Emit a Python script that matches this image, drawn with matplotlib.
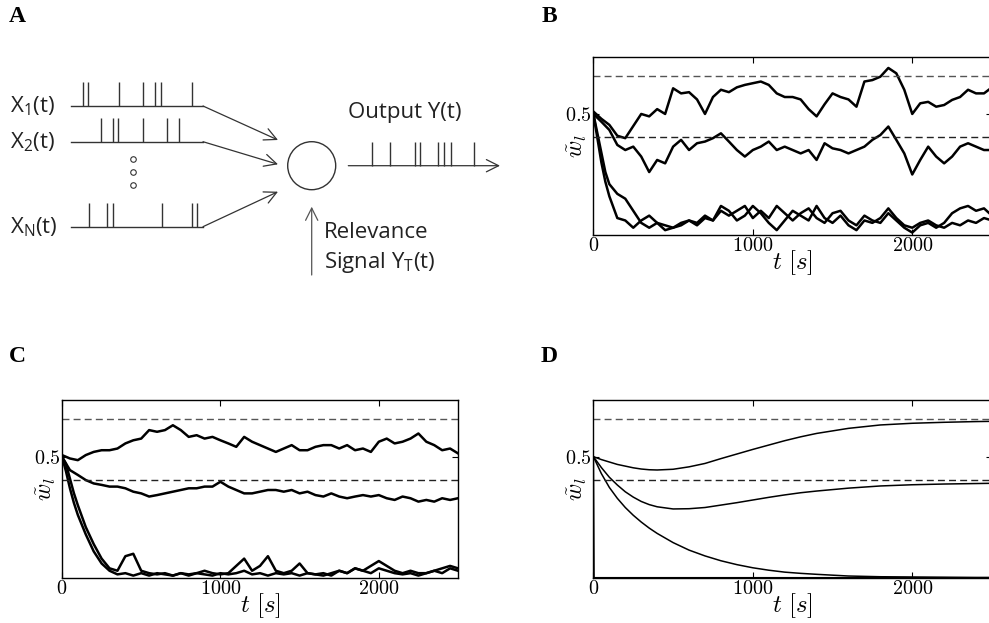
import numpy as np
import matplotlib
matplotlib.use('Agg')
import matplotlib.pyplot as plt
from matplotlib.patches import Circle

plt.rcParams['mathtext.fontset'] = 'cm'
plt.rcParams['mathtext.rm'] = 'Open Sans'
plt.rcParams['mathtext.it'] = 'Open Sans:italic'
plt.rcParams['mathtext.bf'] = 'Open Sans:bold'

# time grids (s)
t_grid = list(range(0, 2501, 50))
t_low = [0, 25, 50, 75] + list(range(100, 2501, 50))
t_d = [0, 50, 100, 150, 200, 250, 300, 350, 400, 500, 600, 700, 800, 900, 1000,
       1100, 1200, 1300, 1400, 1600, 1800, 2000, 2200, 2400, 2500]

target_hi = 0.655
target_lo = 0.405

# panel B
b_upper = [0.51, 0.48, 0.455, 0.41, 0.40, 0.45, 0.50, 0.49, 0.52, 0.50, 0.606, 0.585,
           0.59, 0.56, 0.50, 0.57, 0.60, 0.59, 0.61, 0.62, 0.627, 0.634, 0.62, 0.585,
           0.57, 0.57, 0.56, 0.52, 0.49, 0.54, 0.585, 0.57, 0.56, 0.53, 0.634, 0.64,
           0.654, 0.69, 0.668, 0.60, 0.50, 0.544, 0.55, 0.53, 0.537, 0.558, 0.57, 0.60,
           0.585, 0.585, 0.61]
b_middle = [0.5, 0.468, 0.434, 0.372, 0.351, 0.365, 0.324, 0.26, 0.31, 0.296, 0.365,
            0.393, 0.351, 0.379, 0.386, 0.40, 0.42, 0.386, 0.351, 0.324, 0.351, 0.365,
            0.386, 0.351, 0.365, 0.351, 0.337, 0.351, 0.31, 0.379, 0.358, 0.351, 0.337,
            0.351, 0.365, 0.393, 0.413, 0.448, 0.393, 0.337, 0.25, 0.31, 0.365, 0.324,
            0.296, 0.324, 0.365, 0.379, 0.365, 0.351, 0.351]
b_low1 = [0.5, 0.40, 0.30, 0.22, 0.16, 0.07, 0.06, 0.03, 0.06, 0.08, 0.05, 0.04, 0.03,
          0.05, 0.06, 0.04, 0.07, 0.06, 0.12, 0.10, 0.06, 0.08, 0.12, 0.09, 0.05, 0.02,
          0.06, 0.10, 0.08, 0.06, 0.12, 0.07, 0.05, 0.08, 0.04, 0.02, 0.06, 0.05, 0.07,
          0.11, 0.07, 0.04, 0.03, 0.05, 0.06, 0.04, 0.03, 0.05, 0.04, 0.06, 0.05, 0.07,
          0.06]
b_low2 = [0.5, 0.42, 0.34, 0.26, 0.21, 0.17, 0.15, 0.10, 0.05, 0.03, 0.05, 0.02, 0.03,
          0.04, 0.06, 0.05, 0.08, 0.06, 0.10, 0.08, 0.10, 0.12, 0.07, 0.10, 0.07, 0.12,
          0.09, 0.06, 0.09, 0.11, 0.07, 0.05, 0.09, 0.10, 0.06, 0.04, 0.08, 0.06, 0.05,
          0.09, 0.06, 0.03, 0.01, 0.04, 0.05, 0.03, 0.05, 0.09, 0.11, 0.12, 0.10, 0.11,
          0.08]

# panel C
c_upper = [0.507, 0.493, 0.486, 0.507, 0.52, 0.527, 0.527, 0.534, 0.555, 0.568, 0.575,
           0.61, 0.603, 0.61, 0.63, 0.61, 0.582, 0.589, 0.575, 0.582, 0.568, 0.555,
           0.541, 0.582, 0.562, 0.548, 0.534, 0.52, 0.534, 0.548, 0.527, 0.527, 0.541,
           0.548, 0.548, 0.534, 0.548, 0.527, 0.534, 0.52, 0.562, 0.575, 0.555, 0.562,
           0.575, 0.596, 0.562, 0.548, 0.527, 0.534, 0.514]
c_middle = [0.5, 0.445, 0.425, 0.404, 0.39, 0.384, 0.377, 0.377, 0.37, 0.356, 0.349,
            0.336, 0.342, 0.349, 0.356, 0.363, 0.37, 0.37, 0.377, 0.377, 0.397, 0.377,
            0.363, 0.349, 0.349, 0.356, 0.363, 0.363, 0.356, 0.363, 0.349, 0.356, 0.342,
            0.336, 0.349, 0.336, 0.329, 0.336, 0.342, 0.336, 0.342, 0.329, 0.322, 0.336,
            0.329, 0.315, 0.322, 0.315, 0.329, 0.322, 0.329]
c_low1 = [0.5, 0.44, 0.37, 0.31, 0.26, 0.18, 0.11, 0.06, 0.03, 0.015, 0.02, 0.01, 0.02,
          0.01, 0.02, 0.015, 0.01, 0.02, 0.01, 0.02, 0.015, 0.01, 0.02, 0.015, 0.02,
          0.03, 0.015, 0.02, 0.01, 0.02, 0.015, 0.02, 0.01, 0.02, 0.015, 0.01, 0.02,
          0.03, 0.02, 0.04, 0.03, 0.02, 0.04, 0.03, 0.02, 0.015, 0.02, 0.01, 0.02, 0.03,
          0.02, 0.04, 0.03]
c_low2 = [0.5, 0.47, 0.41, 0.35, 0.30, 0.21, 0.14, 0.08, 0.04, 0.03, 0.09, 0.10, 0.03,
          0.02, 0.015, 0.02, 0.01, 0.02, 0.015, 0.02, 0.03, 0.02, 0.015, 0.02, 0.05,
          0.08, 0.03, 0.05, 0.09, 0.03, 0.02, 0.03, 0.06, 0.02, 0.015, 0.02, 0.01, 0.03,
          0.02, 0.04, 0.03, 0.05, 0.07, 0.05, 0.03, 0.02, 0.03, 0.02, 0.02, 0.03, 0.04,
          0.05, 0.04]

# panel D (mean dynamics)
d_upper = [0.5, 0.488, 0.478, 0.468, 0.461, 0.454, 0.449, 0.446, 0.445, 0.448, 0.458,
           0.472, 0.492, 0.511, 0.53, 0.548, 0.566, 0.582, 0.596, 0.617, 0.631, 0.638,
           0.642, 0.645, 0.646]
d_middle = [0.5, 0.455, 0.415, 0.383, 0.355, 0.333, 0.315, 0.302, 0.293, 0.284, 0.285,
            0.29, 0.30, 0.31, 0.321, 0.332, 0.342, 0.351, 0.358, 0.37, 0.379, 0.384,
            0.387, 0.389, 0.39]
d_lower = [0.5, 0.43, 0.373, 0.328, 0.29, 0.258, 0.23, 0.205, 0.183, 0.145, 0.114, 0.09,
           0.07, 0.054, 0.041, 0.031, 0.023, 0.018, 0.014, 0.007, 0.004, 0.003, 0.002,
           0.001, 0.001]
t_drop = [0, 4, 2500]
d_drop = [0.5, 0.0, 0.0]

# panel A schematic (spike positions along each train)
x1_spikes = [82.7, 88.3, 119.3, 143.3, 155.3, 161.3, 191.7]
x2_spikes = [100.7, 112.7, 118.3, 143.3, 167.3, 179.3]
xn_spikes = [89.3, 107.3, 112.7, 161.7, 191.7, 196.7]
y_spikes = [371.7, 390, 415, 420, 438.3, 444.3, 450.7, 474]

fig = plt.figure(figsize=(9.89, 6.23), dpi=100)

# ---- panel A
axA = fig.add_axes([0, 0, 1, 1], zorder=0)
axA.set_xlim(0, 989)
axA.set_ylim(623, 0)
axA.axis('off')
lc = '#333333'
spk_h = 24
for base, spikes, tip in [(106, x1_spikes, 140), (141.7, x2_spikes, 164.3),
                          (226.7, xn_spikes, 191.7)]:
    axA.plot([71, 203], [base, base], color=lc, lw=1)
    axA.vlines(spikes, base - spk_h, base, color=lc, lw=1)
    axA.annotate('', xy=(278, tip), xytext=(203, base),
                 arrowprops=dict(arrowstyle='->', color=lc, lw=0.9,
                                 mutation_scale=22, shrinkA=0, shrinkB=0))
axA.plot([132.7, 132.7, 132.7], [159.3, 172.3, 185], 'o', ms=4, mfc='white',
         mec=lc, mew=0.8)
axA.add_patch(Circle((311.7, 165.7), 24, fill=False, ec=lc, lw=1))
axA.vlines(y_spikes, 165.7 - spk_h, 165.7, color=lc, lw=1)
axA.annotate('', xy=(500, 165.7), xytext=(348.3, 165.7),
             arrowprops=dict(arrowstyle='->', color=lc, lw=0.9,
                             mutation_scale=22, shrinkA=0, shrinkB=0))
axA.annotate('', xy=(311.7, 206.7), xytext=(311.7, 275),
             arrowprops=dict(arrowstyle='->', color='#555555', lw=0.9,
                             mutation_scale=22, shrinkA=0, shrinkB=0))
tkw = dict(fontsize=16, color='#222222', math_fontfamily='custom',
           family='Open Sans', va='baseline')
axA.text(10, 112.7, r'$\mathrm{X}_{\mathrm{1}}\mathrm{(t)}$', **tkw)
axA.text(10, 148, r'$\mathrm{X}_{\mathrm{2}}\mathrm{(t)}$', **tkw)
axA.text(10, 233, r'$\mathrm{X}_{\mathrm{N}}\mathrm{(t)}$', **tkw)
axA.text(348, 118.3, 'Output Y(t)', **tkw)
axA.text(324, 238.3, 'Relevance', **tkw)
axA.text(324, 268.3, r'Signal $\mathrm{Y}_{\mathrm{T}}\mathrm{(t)}$', **tkw)


def panel(rect, traces, lw):
    ax = fig.add_axes(rect)
    for t, w in traces:
        ax.plot(t, w, color='black', lw=lw)
    ax.axhline(target_hi, color='#555555', lw=1, dashes=(5, 3))
    ax.axhline(target_lo, color='#222222', lw=1, dashes=(5, 3))
    ax.set_xlim(0, 2500)
    ax.set_ylim(0, 0.734)
    ax.set_xticks([0, 1000, 2000])
    ax.set_xticklabels([r'$0$', r'$1000$', r'$2000$'])
    ax.set_yticks([0.5])
    ax.set_yticklabels([r'$0.5$'])
    ax.tick_params(direction='in', top=True, right=True, length=4, width=0.8,
                   labelsize=14.5, pad=1)
    ax.set_xlabel(r'$t\ [s]$', fontsize=18, labelpad=-5)
    ax.set_ylabel(r'$\tilde{w}_l$', fontsize=17, va='center')
    ax.yaxis.set_label_coords(-0.04, 0.5)
    for s in ax.spines.values():
        s.set_linewidth(1)
    return ax


panel([0.600, 0.6228, 0.403, 0.2852],
      [(t_grid, b_upper), (t_grid, b_middle), (t_low, b_low1), (t_low, b_low2)], 1.8)
panel([0.0627, 0.0722, 0.4004, 0.2857],
      [(t_grid, c_upper), (t_grid, c_middle), (t_low, c_low1), (t_low, c_low2)], 1.8)
panel([0.600, 0.0727, 0.403, 0.2852],
      [(t_d, d_upper), (t_d, d_middle), (t_d, d_lower), (t_drop, d_drop)], 1.1)

lkw = dict(fontsize=17, fontweight='bold', family='Liberation Serif',
           ha='center', va='center')
fig.text(17 / 989, 1 - 16 / 623, 'A', **lkw)
fig.text(549 / 989, 1 - 16 / 623, 'B', **lkw)
fig.text(17 / 989, 1 - 356 / 623, 'C', **lkw)
fig.text(549 / 989, 1 - 356 / 623, 'D', **lkw)

fig.savefig('out.png', dpi=100)
